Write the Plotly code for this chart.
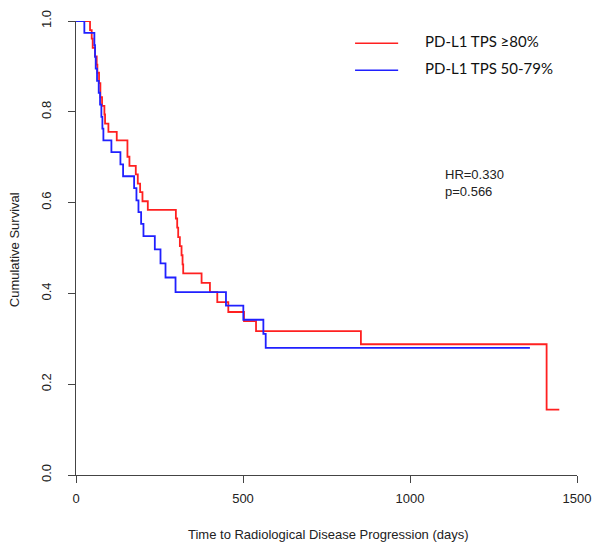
import plotly.graph_objects as go

# Kaplan-Meier step data
red_days = [0, 42, 47, 50, 57, 62, 64, 69, 73, 78, 85, 87, 97, 122, 154, 160, 179, 185, 192, 199, 215,
            299, 303, 306, 311, 316, 319, 321, 376, 401, 423, 456, 503, 539, 853, 1409, 1447]
red_surv = [1.0, 0.980, 0.961, 0.941, 0.922, 0.904, 0.886, 0.863, 0.832, 0.813, 0.794, 0.774, 0.756, 0.737,
            0.701, 0.681, 0.662, 0.642, 0.623, 0.603, 0.584,
            0.565, 0.545, 0.524, 0.504, 0.484, 0.464, 0.444, 0.423, 0.403, 0.381, 0.359, 0.339, 0.317,
            0.288, 0.144, 0.144]

blue_days = [0, 25, 55, 57, 59, 63, 68, 72, 76, 79, 82, 106, 133, 141, 174, 181, 187, 195, 202, 236, 253,
             268, 298, 449, 501, 561, 568, 1359]
blue_surv = [1.0, 0.974, 0.947, 0.921, 0.895, 0.868, 0.842, 0.816, 0.789, 0.763, 0.737, 0.711, 0.684, 0.658,
             0.632, 0.605, 0.579, 0.553, 0.526, 0.497, 0.466, 0.435, 0.403, 0.373, 0.342, 0.311, 0.280, 0.280]

series_names = ["PD-L1 TPS ≥80%", "PD-L1 TPS 50-79%"]
x_ticks = [0, 500, 1000, 1500]
y_ticks = [0.0, 0.2, 0.4, 0.6, 0.8, 1.0]
stats_text = ["HR=0.330", "p=0.566"]

RED = "#ff2020"
BLUE = "#2020ff"

fig = go.Figure()
fig.add_trace(go.Scatter(x=red_days, y=red_surv, mode="lines", line=dict(color=RED, width=1.8, shape="hv"),
                         name=series_names[0], showlegend=False))
fig.add_trace(go.Scatter(x=blue_days, y=blue_surv, mode="lines", line=dict(color=BLUE, width=1.8, shape="hv"),
                         name=series_names[1], showlegend=False))

axis_font = dict(family="Liberation Sans, Arial, sans-serif", size=13, color="#222")

fig.update_layout(
    width=596, height=550,
    margin=dict(l=76, r=19, t=21, b=75, autoexpand=False),
    paper_bgcolor="white", plot_bgcolor="white",
    xaxis=dict(range=[0, 1500], tickvals=x_ticks, ticktext=[str(v) for v in x_ticks],
               showgrid=False, zeroline=False, showline=True, linecolor="#444", linewidth=1,
               ticks="outside", ticklen=7, tickcolor="#444", tickfont=axis_font, ticklabelstandoff=4,
               automargin=False),
    yaxis=dict(range=[0, 1], tickvals=y_ticks, ticktext=[f"{v:.1f}" for v in y_ticks],
               showgrid=False, zeroline=False, showline=True, linecolor="#444", linewidth=1,
               ticks="outside", ticklen=7, tickcolor="#444", tickfont=axis_font, tickangle=-90,
               ticklabelstandoff=12, automargin=False),
)

# axis titles
fig.add_annotation(text="Time to Radiological Disease Progression (days)", xref="paper", yref="paper",
                   x=0.503, y=-0.132, showarrow=False, font=axis_font, xanchor="center", yanchor="middle")
fig.add_annotation(text="Cumulative Survival", xref="paper", yref="paper", x=-0.124, y=0.497,
                   showarrow=False, font=axis_font, textangle=-90, xanchor="center", yanchor="middle")

# legend (drawn manually to match placement)
leg_font = dict(family="Lato, Open Sans, sans-serif", size=15, color="#111")
for i, (name, col) in enumerate(zip(series_names, [RED, BLUE])):
    py = 0.951 - i * 0.0595
    fig.add_shape(type="line", xref="paper", yref="paper", x0=0.557, x1=0.643, y0=py, y1=py,
                  line=dict(color=col, width=1.3))
    fig.add_annotation(text=name, xref="paper", yref="paper", x=0.692, y=py + 0.006, showarrow=False,
                       font=leg_font, xanchor="left", yanchor="middle")

# stats text
for i, s in enumerate(stats_text):
    fig.add_annotation(text=s, xref="paper", yref="paper", x=0.732, y=0.661 - i * 0.037, showarrow=False,
                       font=axis_font, xanchor="left", yanchor="middle")

fig.write_html("out.html", config={"displayModeBar": False},
               post_script="document.body.style.margin='0px';")
